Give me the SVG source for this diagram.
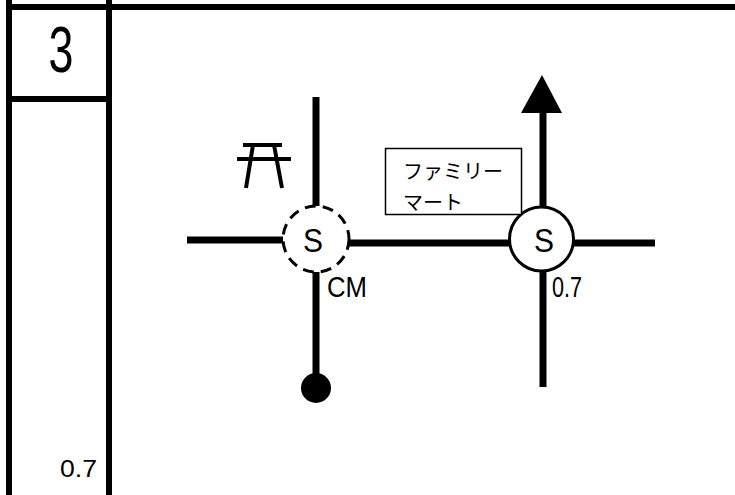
<svg xmlns="http://www.w3.org/2000/svg" width="735" height="495" viewBox="0 0 735 495">
<defs>
<style>
.frame{stroke:#000;stroke-width:6;fill:none}
.road{stroke:#000;stroke-width:7;fill:none}
.lbl{font-family:"Liberation Sans",Arial,sans-serif;fill:#000}
.big{font-size:64px}
.s{font-size:34px}
.num{font-size:29px}
.jp{font-family:"Noto Sans CJK JP","Liberation Sans",sans-serif;fill:#000;font-size:20px}
</style>
</defs>
<rect width="735" height="495" fill="#fff"/>
<g id="frame">
<line class="frame" x1="6" y1="7" x2="735" y2="7"/>
<line class="frame" x1="9" y1="0" x2="9" y2="495"/>
<line class="frame" x1="109" y1="0" x2="109" y2="495"/>
<line class="frame" x1="9" y1="99" x2="109" y2="99"/>
<text class="lbl big" x="61" y="72" text-anchor="middle" transform="translate(61 0) scale(0.7 1) translate(-61 0)">3</text>
<text class="lbl" x="60" y="477" font-size="24" textLength="37" lengthAdjust="spacingAndGlyphs">0.7</text>
</g>
<g id="connectors">
<line class="road" x1="316" y1="97" x2="316" y2="206"/>
<line class="road" x1="316" y1="272" x2="316" y2="385"/>
<line class="road" x1="187" y1="240" x2="283" y2="240"/>
<line class="road" x1="349" y1="243" x2="510" y2="243"/>
<line class="road" x1="572" y1="243" x2="655" y2="243"/>
<line class="road" x1="543" y1="110" x2="543" y2="207"/>
<polygon points="542,75 521,113 562,113" fill="#000"/>
<line class="road" x1="543" y1="271" x2="543" y2="387"/>
</g>
<g id="node-left">
<circle cx="316" cy="239" r="33" fill="#fff" stroke="#000" stroke-width="3" stroke-dasharray="11 7"/>
<text class="lbl s" x="303" y="252" textLength="20" lengthAdjust="spacingAndGlyphs">S</text>
<text class="lbl num" x="327" y="297" textLength="40" lengthAdjust="spacingAndGlyphs">CM</text>
</g>
<g id="node-right">
<circle cx="541.5" cy="239" r="32" fill="#fff" stroke="#000" stroke-width="3"/>
<text class="lbl s" x="534" y="252" textLength="20" lengthAdjust="spacingAndGlyphs">S</text>
<text class="lbl num" x="552" y="297" textLength="30" lengthAdjust="spacingAndGlyphs">0.7</text>
</g>
<g id="node-end">
<circle cx="316" cy="388" r="15" fill="#000"/>
</g>
<g id="node-shrine" stroke="#000" stroke-width="4" fill="none">
<line x1="243" y1="145" x2="282" y2="145"/>
<line x1="237" y1="159" x2="291" y2="159"/>
<line x1="253" y1="145" x2="246" y2="188"/>
<line x1="274" y1="145" x2="282" y2="188"/>
</g>
<g id="node-familymart">
<rect x="385.5" y="148.5" width="136" height="66" fill="#fff" stroke="#000" stroke-width="1.5"/>
<text class="jp" x="403" y="179">ファミリー</text>
<text class="jp" x="403" y="210">マート</text>
</g>
</svg>
